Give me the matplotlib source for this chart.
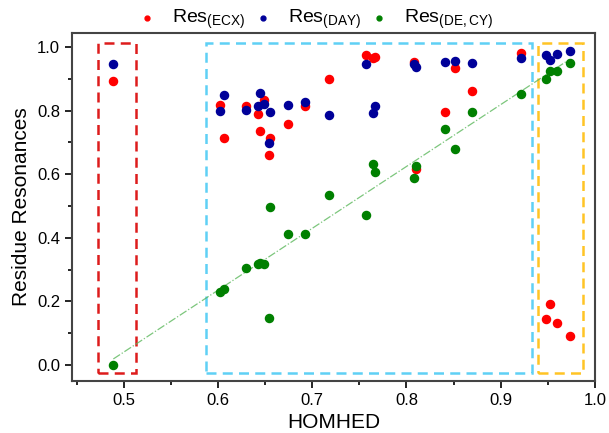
import numpy as np
import matplotlib
matplotlib.use('Agg')
import matplotlib.pyplot as plt
from matplotlib.patches import Rectangle
from matplotlib.ticker import MultipleLocator

plt.rcParams['font.family'] = ['Liberation Sans', 'DejaVu Sans']

# HOMHED values (shared x for the three series)
homhed = [0.489, 0.602, 0.606, 0.630, 0.643, 0.645, 0.649, 0.654, 0.655,
          0.674, 0.692, 0.718, 0.757, 0.764, 0.767, 0.808, 0.810, 0.841,
          0.852, 0.869, 0.922, 0.948, 0.952, 0.960, 0.973]

res_ecx = [0.893, 0.818, 0.714, 0.813, 0.789, 0.735, 0.833, 0.660, 0.714,
           0.758, 0.814, 0.899, 0.975, 0.964, 0.969, 0.953, 0.617, 0.794,
           0.934, 0.861, 0.980, 0.146, 0.193, 0.133, 0.091]

res_day = [0.946, 0.799, 0.849, 0.803, 0.814, 0.854, 0.822, 0.699, 0.797,
           0.819, 0.826, 0.785, 0.947, 0.791, 0.814, 0.946, 0.938, 0.953,
           0.957, 0.948, 0.964, 0.975, 0.959, 0.978, 0.986]

res_decy = [0.000, 0.230, 0.239, 0.305, 0.317, 0.320, 0.317, 0.149, 0.497,
            0.412, 0.412, 0.535, 0.473, 0.633, 0.608, 0.588, 0.626, 0.742,
            0.679, 0.795, 0.852, 0.899, 0.925, 0.925, 0.951]

# dashed region boxes: (x0, x1)
regions = [(0.473, 0.513), (0.587, 0.933), (0.940, 0.987)]
region_colors = ['#dd1c1c', '#5fd0f5', '#ffc425']

fig = plt.figure(figsize=(6.09, 4.33), dpi=100)
ax = fig.add_axes([0.118, 0.12, 0.859, 0.804])

ax.scatter(homhed, res_ecx, s=34, color='#ff0000', label=r'Res$_\mathregular{(ECX)}$', zorder=3)
ax.scatter(homhed, res_day, s=34, color='#000099', label=r'Res$_\mathregular{(DAY)}$', zorder=3)
ax.scatter(homhed, res_decy, s=34, color='#008000', label=r'Res$_\mathregular{(DE,CY)}$', zorder=3)

# linear fit of the green series
coef = np.polyfit(homhed, res_decy, 1)
xf = np.array([min(homhed), max(homhed)])
ax.plot(xf, np.polyval(coef, xf), color='#5cb85c', lw=0.9, ls='-.', alpha=0.8, zorder=2)

for (x0, x1), c in zip(regions, region_colors):
    ax.add_patch(Rectangle((x0, -0.024), x1 - x0, 1.035, fill=False,
                           edgecolor=c, lw=1.8, ls=(0, (4, 2.5)), zorder=1))

ax.set_xlim(0.445, 1.0)
ax.set_ylim(-0.05, 1.044)
ax.xaxis.set_major_locator(MultipleLocator(0.1))
ax.xaxis.set_minor_locator(MultipleLocator(0.05))
ax.yaxis.set_major_locator(MultipleLocator(0.2))
ax.yaxis.set_minor_locator(MultipleLocator(0.1))
ax.tick_params(which='both', direction='out', labelsize=12, width=1.2)
ax.tick_params(which='major', length=5)
ax.tick_params(which='minor', length=3)
for sp in ax.spines.values():
    sp.set_linewidth(1.5)
    sp.set_color('#444444')

ax.set_xlabel('HOMHED', fontsize=15)
ax.set_ylabel('Residue Resonances', fontsize=15)

fig.legend(loc='upper center', bbox_to_anchor=(0.518, 1.0), ncol=3, frameon=False,
           fontsize=14, handlelength=1.0, handletextpad=0.8, columnspacing=0.4,
           markerscale=0.6, borderaxespad=0.0)

fig.savefig('out.png', dpi=100)
